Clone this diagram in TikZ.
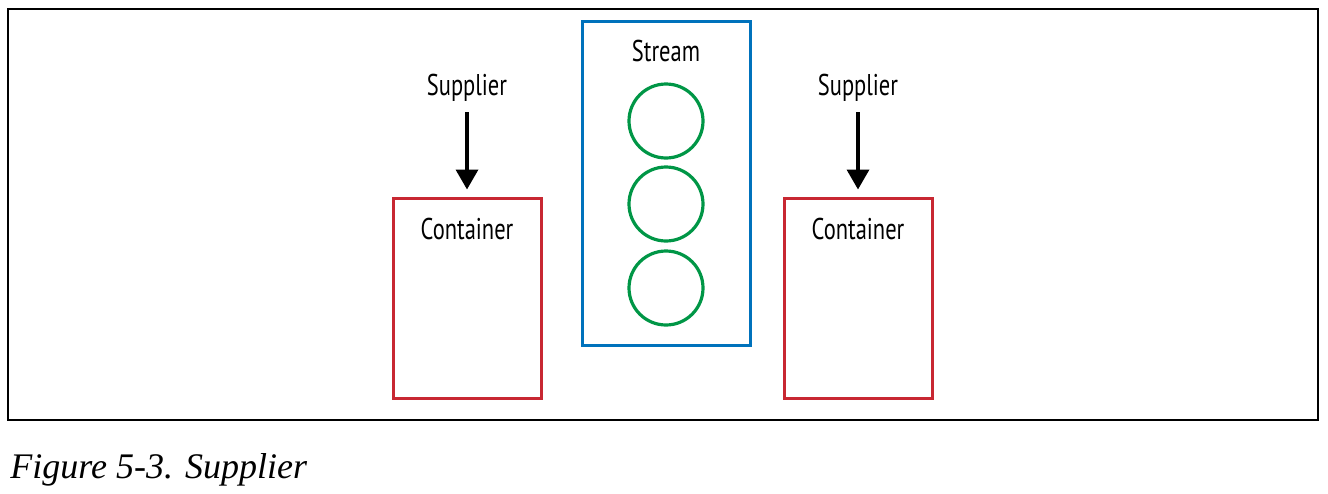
\documentclass[tikz,border=0pt]{standalone}
\usepackage{fontspec}
\setmainfont{Liberation Serif}
\newfontfamily\labelfont{PT Sans}[FakeStretch=0.75]
\usepackage{tikz}
\usetikzlibrary{arrows.meta, positioning}
\definecolor{streamblue}{RGB}{0,114,188}
\definecolor{elemgreen}{RGB}{0,150,70}
\definecolor{contred}{RGB}{200,40,50}

\begin{document}
\begin{tikzpicture}[x=0.5pt, y=-0.5pt,
	boxtext/.style={font=\labelfont\fontsize{15}{18}\selectfont, inner sep=0pt},
	contbox/.style={draw=contred, line width=1.5pt, minimum width=74pt, minimum height=100pt, inner sep=0pt},
	elem/.style={circle, draw=elemgreen, line width=1.6pt, minimum size=37pt, inner sep=0pt},
	feed/.style={-{Triangle[length=10pt, width=11pt]}, line width=1.8pt}]

\useasboundingbox (0,0) rectangle (1328,493);

\draw[line width=0.75pt] (8,9) rectangle (1318,420); % frame

% stream with its elements
\node[draw=streamblue, line width=1.5pt, minimum width=84pt, minimum height=162pt, inner sep=0pt] (stream) at (666,183) {};
\node[boxtext] (stream text) at (666,51) {Stream};
\foreach \y/\n in {121/1, 204/2, 288/3} {
	\node[elem] (elem\n) at (666,\y) {};
}

% containers
\node[contbox] (cont1) at (467,298) {};
\node[contbox] (cont2) at (858,298) {};
\node[boxtext] (cont1 text) at (467,229) {Container};
\node[boxtext] (cont2 text) at (858,229) {Container};

% suppliers
\node[boxtext] (sup1) at (467,88) {Supplier};
\node[boxtext] (sup2) at (858,88) {Supplier};
\draw[feed, shorten <=5pt, shorten >=3.5pt] (sup1) -- (cont1);
\draw[feed, shorten <=5pt, shorten >=3.5pt] (sup2) -- (cont2);

\node[anchor=base west, inner sep=0pt, font=\itshape\fontsize{18}{22}\selectfont] (caption) at (10,478) {Figure 5-3. Supplier};

\end{tikzpicture}
\end{document}
